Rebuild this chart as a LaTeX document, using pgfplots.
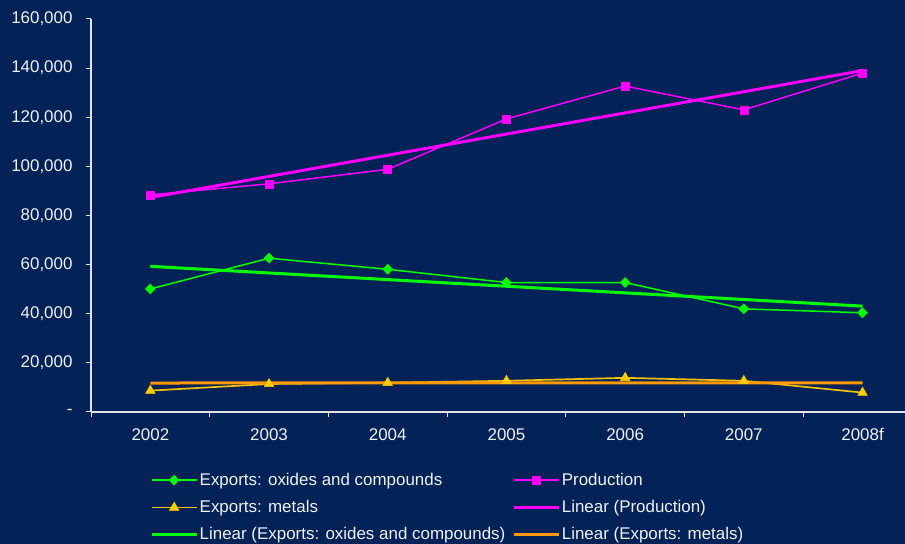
\documentclass[border=0pt]{standalone}
\usepackage{fontspec}
\setmainfont{Liberation Sans}
\usepackage{pgfplots}
\pgfplotsset{compat=1.18}
\definecolor{bg}{RGB}{2,34,88}
\definecolor{axisc}{RGB}{225,228,235}
\definecolor{txt}{RGB}{240,242,246}
\definecolor{grn}{RGB}{0,255,0}
\definecolor{mag}{RGB}{255,0,255}
\definecolor{gold}{RGB}{255,204,0}
\definecolor{goldl}{RGB}{245,192,10}
\definecolor{orng}{RGB}{255,153,0}
\begin{document}
\begin{tikzpicture}[x=1bp,y=1bp]
\fill[bg] (0,0) rectangle (905,544);
\begin{axis}[
  at={(91bp,132bp)}, anchor=south west,
  scale only axis, width=814bp, height=393bp,
  xmin=-0.5, xmax=6.358, ymin=0, ymax=160000,
  scaled y ticks=false,
  axis x line=bottom, axis y line=left,
  axis line style={axisc, line width=1.2bp, -},
  tick align=outside,
  major tick length=5bp, minor tick length=5bp,
  tick style={axisc, line width=1bp},
  ytick={0,20000,40000,60000,80000,100000,120000,140000,160000},
  yticklabels={{-\hspace{19bp}},{20,000},{40,000},{60,000},{80,000},{100,000},{120,000},{140,000},{160,000}},
  xtick={0,1,2,3,4,5,6},
  xticklabels={2002,2003,2004,2005,2006,2007,2008f},
  major x tick style={draw=none},
  minor xtick={-0.5,0.5,1.5,2.5,3.5,4.5,5.5},
  yticklabel style={font=\fontsize{17}{20}\selectfont, text=txt, xshift=-10bp},
  xticklabel style={font=\fontsize{17}{20}\selectfont, text=txt, yshift=-8bp},
  clip=false,
  legend columns=2,
  legend cell align=left,
  legend style={at={(axis description cs:0.0725,-0.1476)}, anchor=north west,
    draw=none, fill=none, text=txt, inner sep=0pt,
    font=\fontsize{17}{20}\selectfont,
    nodes={inner xsep=1.5bp, inner ysep=2bp, text height=13bp, text depth=3bp},
    row sep=7.3bp,
    /tikz/every even column/.append style={column sep=5.5bp}},
  legend image code/.code={%
    \draw[#1, mark=none] (0bp,0bp) -- (45bp,0bp);
    \draw[#1] plot coordinates {(22.5bp,0bp)};},
]
% Exports: oxides and compounds
\addplot[grn, line width=1.5bp, mark=square*, mark size=3.5bp, mark options={fill=grn, draw=grn, line width=0.5bp, rotate=45}]
  coordinates {(0,50100) (1,62600) (2,58100) (3,52700) (4,52700) (5,42000) (6,40400)};
\addlegendentry{Exports: oxides and compounds}
% Production
\addplot[mag, line width=1.5bp, mark=square*, mark size=4bp, mark options={fill=mag, draw=mag, line width=0.5bp}]
  coordinates {(0,88400) (1,92900) (2,98800) (3,119300) (4,132700) (5,123000) (6,138000)};
\addlegendentry{Production}
% Exports: metals
\addplot[goldl, line width=1.7bp, mark=triangle*, mark size=5.5bp, mark options={fill=gold, draw=gold, line width=0.5bp}]
  coordinates {(0,8700) (1,11400) (2,11900) (3,12700) (4,13900) (5,12700) (6,7900)};
\addlegendentry{Exports: metals}
% Linear (Production)
\addplot[mag, line width=3bp] coordinates {(0,87300) (6,139000)};
\addlegendentry{Linear (Production)}
% Linear (Exports: oxides and compounds)
\addplot[grn, line width=3bp] coordinates {(0,59300) (6,43100)};
\addlegendentry{Linear (Exports: oxides and compounds)}
% Linear (Exports: metals)
\addplot[orng, line width=3bp] coordinates {(0,11800) (6,11900)};
\addlegendentry{Linear (Exports: metals)}
\end{axis}
\pgfresetboundingbox
\path[use as bounding box] (0,0) rectangle (905,544);
\end{tikzpicture}
\end{document}
